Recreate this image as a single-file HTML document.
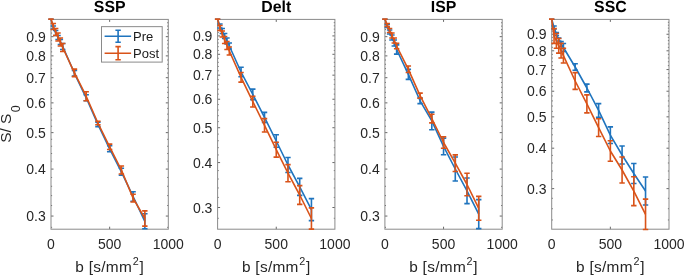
<!DOCTYPE html>
<html><head><meta charset="utf-8"><style>
text{filter:grayscale(1);}
html,body{margin:0;padding:0;background:#fff;}
svg{display:block;}
.t{font-family:"Liberation Sans",sans-serif;font-size:14px;fill:#262626;}
.lb{font-family:"Liberation Sans",sans-serif;font-size:15.4px;fill:#262626;}
.yl{font-family:"Liberation Sans",sans-serif;font-size:15.4px;fill:#262626;}
.lg{font-family:"Liberation Sans",sans-serif;font-size:13px;fill:#1a1a1a;}
.ti{font-family:"Liberation Sans",sans-serif;font-size:16.0px;font-weight:bold;fill:#000;text-rendering:geometricPrecision;}
</style></head><body>
<svg width="685" height="277" viewBox="0 0 685 277">
<rect width="685" height="277" fill="#fff"/>
<path d="M51.00 216.06h2.5M168.30 216.06h-2.5M51.00 169.08h2.5M168.30 169.08h-2.5M51.00 132.64h2.5M168.30 132.64h-2.5M51.00 102.87h2.5M168.30 102.87h-2.5M51.00 77.70h2.5M168.30 77.70h-2.5M51.00 55.89h2.5M168.30 55.89h-2.5M51.00 36.66h2.5M168.30 36.66h-2.5M51.00 227.33h1.1M168.30 227.33h-1.1M51.00 205.52h1.1M168.30 205.52h-1.1M51.00 195.62h1.1M168.30 195.62h-1.1M51.00 186.29h1.1M168.30 186.29h-1.1M51.00 177.46h1.1M168.30 177.46h-1.1M51.00 161.11h1.1M168.30 161.11h-1.1M51.00 153.52h1.1M168.30 153.52h-1.1M51.00 146.26h1.1M168.30 146.26h-1.1M51.00 139.31h1.1M168.30 139.31h-1.1M51.00 126.24h1.1M168.30 126.24h-1.1M51.00 120.07h1.1M168.30 120.07h-1.1M51.00 114.13h1.1M168.30 114.13h-1.1M51.00 108.40h1.1M168.30 108.40h-1.1M51.00 97.51h1.1M168.30 97.51h-1.1M51.00 92.33h1.1M168.30 92.33h-1.1M51.00 87.30h1.1M168.30 87.30h-1.1M51.00 82.43h1.1M168.30 82.43h-1.1M51.00 73.09h1.1M168.30 73.09h-1.1M51.00 68.62h1.1M168.30 68.62h-1.1M51.00 64.27h1.1M168.30 64.27h-1.1M51.00 60.02h1.1M168.30 60.02h-1.1M51.00 51.86h1.1M168.30 51.86h-1.1M51.00 47.92h1.1M168.30 47.92h-1.1M51.00 44.08h1.1M168.30 44.08h-1.1M51.00 40.33h1.1M168.30 40.33h-1.1M51.00 33.07h1.1M168.30 33.07h-1.1M51.00 29.55h1.1M168.30 29.55h-1.1M51.00 26.12h1.1M168.30 26.12h-1.1M51.00 22.75h1.1M168.30 22.75h-1.1M109.65 229.20v-2.5M109.65 19.40v2.5" stroke="#262626" stroke-width="0.7" fill="none"/>
<rect x="51.00" y="19.40" width="117.30" height="209.80" fill="none" stroke="#8a8a8a" stroke-width="1.0"/>
<polyline points="51.00,19.30 53.35,27.50 55.69,33.00 58.04,37.50 60.38,42.00 62.73,46.50 74.46,73.30 86.19,97.80 97.92,124.40 109.65,148.80 121.38,171.80 133.11,196.50 144.84,221.30" fill="none" stroke="#1F74BE" stroke-width="1.6" stroke-linejoin="round"/>
<path d="M51.00 19.30V19.30M48.30 19.30h5.40M48.30 19.30h5.40M53.35 26.00V29.00M50.65 26.00h5.40M50.65 29.00h5.40M55.69 30.50V35.50M52.99 30.50h5.40M52.99 35.50h5.40M58.04 35.50V39.50M55.34 35.50h5.40M55.34 39.50h5.40M60.38 39.50V44.50M57.68 39.50h5.40M57.68 44.50h5.40M62.73 43.50V49.50M60.03 43.50h5.40M60.03 49.50h5.40M74.46 70.50V76.10M71.76 70.50h5.40M71.76 76.10h5.40M86.19 94.80V100.80M83.49 94.80h5.40M83.49 100.80h5.40M97.92 122.20V126.60M95.22 122.20h5.40M95.22 126.60h5.40M109.65 145.80V151.80M106.95 145.80h5.40M106.95 151.80h5.40M121.38 168.30V175.30M118.68 168.30h5.40M118.68 175.30h5.40M133.11 191.80V201.20M130.41 191.80h5.40M130.41 201.20h5.40M144.84 213.80V228.80M142.14 213.80h5.40M142.14 228.80h5.40" fill="none" stroke="#1F74BE" stroke-width="1.6"/>
<polyline points="51.00,19.10 53.35,26.50 55.69,32.00 58.04,37.00 60.38,42.00 62.73,47.50 74.46,72.85 86.19,96.20 97.92,123.00 109.65,146.80 121.38,170.00 133.11,198.10 144.84,218.50" fill="none" stroke="#D95319" stroke-width="1.6" stroke-linejoin="round"/>
<path d="M51.00 19.10V19.10M48.30 19.10h5.40M48.30 19.10h5.40M53.35 23.50V29.50M50.65 23.50h5.40M50.65 29.50h5.40M55.69 28.50V35.50M52.99 28.50h5.40M52.99 35.50h5.40M58.04 33.00V41.00M55.34 33.00h5.40M55.34 41.00h5.40M60.38 38.00V46.00M57.68 38.00h5.40M57.68 46.00h5.40M62.73 43.50V51.50M60.03 43.50h5.40M60.03 51.50h5.40M74.46 69.10V76.60M71.76 69.10h5.40M71.76 76.60h5.40M86.19 91.70V100.70M83.49 91.70h5.40M83.49 100.70h5.40M97.92 121.20V124.80M95.22 121.20h5.40M95.22 124.80h5.40M109.65 144.10V149.50M106.95 144.10h5.40M106.95 149.50h5.40M121.38 166.00V174.00M118.68 166.00h5.40M118.68 174.00h5.40M133.11 194.20V202.00M130.41 194.20h5.40M130.41 202.00h5.40M144.84 210.85V226.15M142.14 210.85h5.40M142.14 226.15h5.40" fill="none" stroke="#D95319" stroke-width="1.6"/>
<text x="45.80" y="221.06" text-anchor="end" class="t">0.3</text>
<text x="45.80" y="174.08" text-anchor="end" class="t">0.4</text>
<text x="45.80" y="137.64" text-anchor="end" class="t">0.5</text>
<text x="45.80" y="107.87" text-anchor="end" class="t">0.6</text>
<text x="45.80" y="82.70" text-anchor="end" class="t">0.7</text>
<text x="45.80" y="60.89" text-anchor="end" class="t">0.8</text>
<text x="45.80" y="41.66" text-anchor="end" class="t">0.9</text>
<text x="51.00" y="248.6" text-anchor="middle" class="t">0</text>
<text x="109.65" y="248.6" text-anchor="middle" class="t">500</text>
<text x="168.30" y="248.6" text-anchor="middle" class="t">1000</text>
<text transform="translate(109.65 11.9) scale(0.99 1)" text-anchor="middle" class="ti">SSP</text>
<text x="109.65" y="272.4" text-anchor="middle" class="lb" letter-spacing="0.3">b [s/mm<tspan dx="0.6" dy="-7.7" font-size="10.8">2</tspan><tspan dx="0.4" dy="7.7">]</tspan></text>
<path d="M217.60 207.51h2.5M334.90 207.51h-2.5M217.60 162.57h2.5M334.90 162.57h-2.5M217.60 127.72h2.5M334.90 127.72h-2.5M217.60 99.24h2.5M334.90 99.24h-2.5M217.60 75.16h2.5M334.90 75.16h-2.5M217.60 54.31h2.5M334.90 54.31h-2.5M217.60 35.91h2.5M334.90 35.91h-2.5M217.60 218.29h1.1M334.90 218.29h-1.1M217.60 197.43h1.1M334.90 197.43h-1.1M217.60 187.96h1.1M334.90 187.96h-1.1M217.60 179.03h1.1M334.90 179.03h-1.1M217.60 170.59h1.1M334.90 170.59h-1.1M217.60 154.95h1.1M334.90 154.95h-1.1M217.60 147.69h1.1M334.90 147.69h-1.1M217.60 140.74h1.1M334.90 140.74h-1.1M217.60 134.10h1.1M334.90 134.10h-1.1M217.60 121.59h1.1M334.90 121.59h-1.1M217.60 115.70h1.1M334.90 115.70h-1.1M217.60 110.02h1.1M334.90 110.02h-1.1M217.60 104.54h1.1M334.90 104.54h-1.1M217.60 94.12h1.1M334.90 94.12h-1.1M217.60 89.16h1.1M334.90 89.16h-1.1M217.60 84.35h1.1M334.90 84.35h-1.1M217.60 79.69h1.1M334.90 79.69h-1.1M217.60 70.76h1.1M334.90 70.76h-1.1M217.60 66.48h1.1M334.90 66.48h-1.1M217.60 62.32h1.1M334.90 62.32h-1.1M217.60 58.26h1.1M334.90 58.26h-1.1M217.60 50.45h1.1M334.90 50.45h-1.1M217.60 46.68h1.1M334.90 46.68h-1.1M217.60 43.01h1.1M334.90 43.01h-1.1M217.60 39.42h1.1M334.90 39.42h-1.1M217.60 32.47h1.1M334.90 32.47h-1.1M217.60 29.11h1.1M334.90 29.11h-1.1M217.60 25.83h1.1M334.90 25.83h-1.1M217.60 22.61h1.1M334.90 22.61h-1.1M276.25 229.20v-2.5M276.25 19.40v2.5" stroke="#262626" stroke-width="0.7" fill="none"/>
<rect x="217.60" y="19.40" width="117.30" height="209.80" fill="none" stroke="#8a8a8a" stroke-width="1.0"/>
<polyline points="217.60,19.30 219.95,26.00 222.29,31.00 224.64,36.00 226.98,41.00 229.33,46.00 241.06,72.00 252.79,94.40 264.52,117.40 276.25,141.00 287.98,165.00 299.71,186.90 311.44,209.60" fill="none" stroke="#1F74BE" stroke-width="1.6" stroke-linejoin="round"/>
<path d="M217.60 19.30V19.30M214.90 19.30h5.40M214.90 19.30h5.40M219.95 24.00V28.00M217.25 24.00h5.40M217.25 28.00h5.40M222.29 28.50V33.50M219.59 28.50h5.40M219.59 33.50h5.40M224.64 33.50V38.50M221.94 33.50h5.40M221.94 38.50h5.40M226.98 38.00V44.00M224.28 38.00h5.40M224.28 44.00h5.40M229.33 43.00V49.00M226.63 43.00h5.40M226.63 49.00h5.40M241.06 67.20V76.80M238.36 67.20h5.40M238.36 76.80h5.40M252.79 89.10V99.70M250.09 89.10h5.40M250.09 99.70h5.40M264.52 112.40V122.40M261.82 112.40h5.40M261.82 122.40h5.40M276.25 134.70V147.30M273.55 134.70h5.40M273.55 147.30h5.40M287.98 157.50V172.50M285.28 157.50h5.40M285.28 172.50h5.40M299.71 178.40V195.40M297.01 178.40h5.40M297.01 195.40h5.40M311.44 198.60V220.60M308.74 198.60h5.40M308.74 220.60h5.40" fill="none" stroke="#1F74BE" stroke-width="1.6"/>
<polyline points="217.60,19.10 219.95,28.00 222.29,34.00 224.64,40.00 226.98,45.50 229.33,51.00 241.06,77.30 252.79,101.60 264.52,125.30 276.25,149.70 287.98,173.20 299.71,195.00 311.44,218.50" fill="none" stroke="#D95319" stroke-width="1.6" stroke-linejoin="round"/>
<path d="M217.60 19.10V19.10M214.90 19.10h5.40M214.90 19.10h5.40M219.95 25.50V30.50M217.25 25.50h5.40M217.25 30.50h5.40M222.29 31.00V37.00M219.59 31.00h5.40M219.59 37.00h5.40M224.64 36.50V43.50M221.94 36.50h5.40M221.94 43.50h5.40M226.98 41.50V49.50M224.28 41.50h5.40M224.28 49.50h5.40M229.33 47.00V55.00M226.63 47.00h5.40M226.63 55.00h5.40M241.06 72.45V82.15M238.36 72.45h5.40M238.36 82.15h5.40M252.79 96.20V107.00M250.09 96.20h5.40M250.09 107.00h5.40M264.52 118.60V132.00M261.82 118.60h5.40M261.82 132.00h5.40M276.25 142.30V157.10M273.55 142.30h5.40M273.55 157.10h5.40M287.98 164.60V181.80M285.28 164.60h5.40M285.28 181.80h5.40M299.71 185.60V204.40M297.01 185.60h5.40M297.01 204.40h5.40M311.44 207.90V229.10M308.74 207.90h5.40M308.74 229.10h5.40" fill="none" stroke="#D95319" stroke-width="1.6"/>
<text x="212.40" y="212.51" text-anchor="end" class="t">0.3</text>
<text x="212.40" y="167.57" text-anchor="end" class="t">0.4</text>
<text x="212.40" y="132.72" text-anchor="end" class="t">0.5</text>
<text x="212.40" y="104.24" text-anchor="end" class="t">0.6</text>
<text x="212.40" y="80.16" text-anchor="end" class="t">0.7</text>
<text x="212.40" y="59.31" text-anchor="end" class="t">0.8</text>
<text x="212.40" y="40.91" text-anchor="end" class="t">0.9</text>
<text x="217.60" y="248.6" text-anchor="middle" class="t">0</text>
<text x="276.25" y="248.6" text-anchor="middle" class="t">500</text>
<text x="334.90" y="248.6" text-anchor="middle" class="t">1000</text>
<text transform="translate(276.25 11.9) scale(0.99 1)" text-anchor="middle" class="ti">Delt</text>
<text x="276.25" y="272.4" text-anchor="middle" class="lb" letter-spacing="0.3">b [s/mm<tspan dx="0.6" dy="-7.7" font-size="10.8">2</tspan><tspan dx="0.4" dy="7.7">]</tspan></text>
<path d="M384.90 216.06h2.5M502.20 216.06h-2.5M384.90 169.08h2.5M502.20 169.08h-2.5M384.90 132.64h2.5M502.20 132.64h-2.5M384.90 102.87h2.5M502.20 102.87h-2.5M384.90 77.70h2.5M502.20 77.70h-2.5M384.90 55.89h2.5M502.20 55.89h-2.5M384.90 36.66h2.5M502.20 36.66h-2.5M384.90 227.33h1.1M502.20 227.33h-1.1M384.90 205.52h1.1M502.20 205.52h-1.1M384.90 195.62h1.1M502.20 195.62h-1.1M384.90 186.29h1.1M502.20 186.29h-1.1M384.90 177.46h1.1M502.20 177.46h-1.1M384.90 161.11h1.1M502.20 161.11h-1.1M384.90 153.52h1.1M502.20 153.52h-1.1M384.90 146.26h1.1M502.20 146.26h-1.1M384.90 139.31h1.1M502.20 139.31h-1.1M384.90 126.24h1.1M502.20 126.24h-1.1M384.90 120.07h1.1M502.20 120.07h-1.1M384.90 114.13h1.1M502.20 114.13h-1.1M384.90 108.40h1.1M502.20 108.40h-1.1M384.90 97.51h1.1M502.20 97.51h-1.1M384.90 92.33h1.1M502.20 92.33h-1.1M384.90 87.30h1.1M502.20 87.30h-1.1M384.90 82.43h1.1M502.20 82.43h-1.1M384.90 73.09h1.1M502.20 73.09h-1.1M384.90 68.62h1.1M502.20 68.62h-1.1M384.90 64.27h1.1M502.20 64.27h-1.1M384.90 60.02h1.1M502.20 60.02h-1.1M384.90 51.86h1.1M502.20 51.86h-1.1M384.90 47.92h1.1M502.20 47.92h-1.1M384.90 44.08h1.1M502.20 44.08h-1.1M384.90 40.33h1.1M502.20 40.33h-1.1M384.90 33.07h1.1M502.20 33.07h-1.1M384.90 29.55h1.1M502.20 29.55h-1.1M384.90 26.12h1.1M502.20 26.12h-1.1M384.90 22.75h1.1M502.20 22.75h-1.1M443.55 229.20v-2.5M443.55 19.40v2.5" stroke="#262626" stroke-width="0.7" fill="none"/>
<rect x="384.90" y="19.40" width="117.30" height="209.80" fill="none" stroke="#8a8a8a" stroke-width="1.0"/>
<polyline points="384.90,19.30 387.25,26.00 389.59,32.00 391.94,37.50 394.28,43.00 396.63,49.50 408.36,74.40 420.09,100.80 431.82,120.90 443.55,146.40 455.28,169.00 467.01,190.80 478.74,214.10" fill="none" stroke="#1F74BE" stroke-width="1.6" stroke-linejoin="round"/>
<path d="M384.90 19.30V19.30M382.20 19.30h5.40M382.20 19.30h5.40M387.25 24.50V27.50M384.55 24.50h5.40M384.55 27.50h5.40M389.59 30.00V34.00M386.89 30.00h5.40M386.89 34.00h5.40M391.94 35.00V40.00M389.24 35.00h5.40M389.24 40.00h5.40M394.28 40.00V46.00M391.58 40.00h5.40M391.58 46.00h5.40M396.63 44.90V54.10M393.93 44.90h5.40M393.93 54.10h5.40M408.36 69.40V79.40M405.66 69.40h5.40M405.66 79.40h5.40M420.09 98.00V103.60M417.39 98.00h5.40M417.39 103.60h5.40M431.82 112.10V129.70M429.12 112.10h5.40M429.12 129.70h5.40M443.55 138.10V154.70M440.85 138.10h5.40M440.85 154.70h5.40M455.28 157.00V181.00M452.58 157.00h5.40M452.58 181.00h5.40M467.01 178.00V203.60M464.31 178.00h5.40M464.31 203.60h5.40M478.74 199.60V228.60M476.04 199.60h5.40M476.04 228.60h5.40" fill="none" stroke="#1F74BE" stroke-width="1.6"/>
<polyline points="384.90,19.10 387.25,25.00 389.59,30.50 391.94,35.50 394.28,40.50 396.63,46.00 408.36,69.30 420.09,95.60 431.82,118.60 443.55,142.50 455.28,163.20 467.01,184.50 478.74,208.30" fill="none" stroke="#D95319" stroke-width="1.6" stroke-linejoin="round"/>
<path d="M384.90 19.10V19.10M382.20 19.10h5.40M382.20 19.10h5.40M387.25 23.50V26.50M384.55 23.50h5.40M384.55 26.50h5.40M389.59 28.50V32.50M386.89 28.50h5.40M386.89 32.50h5.40M391.94 33.00V38.00M389.24 33.00h5.40M389.24 38.00h5.40M394.28 38.00V43.00M391.58 38.00h5.40M391.58 43.00h5.40M396.63 43.25V48.75M393.93 43.25h5.40M393.93 48.75h5.40M408.36 66.05V72.55M405.66 66.05h5.40M405.66 72.55h5.40M420.09 93.10V98.10M417.39 93.10h5.40M417.39 98.10h5.40M431.82 114.30V122.90M429.12 114.30h5.40M429.12 122.90h5.40M443.55 136.70V148.30M440.85 136.70h5.40M440.85 148.30h5.40M455.28 154.85V171.55M452.58 154.85h5.40M452.58 171.55h5.40M467.01 173.20V195.80M464.31 173.20h5.40M464.31 195.80h5.40M478.74 196.40V220.20M476.04 196.40h5.40M476.04 220.20h5.40" fill="none" stroke="#D95319" stroke-width="1.6"/>
<text x="379.70" y="221.06" text-anchor="end" class="t">0.3</text>
<text x="379.70" y="174.08" text-anchor="end" class="t">0.4</text>
<text x="379.70" y="137.64" text-anchor="end" class="t">0.5</text>
<text x="379.70" y="107.87" text-anchor="end" class="t">0.6</text>
<text x="379.70" y="82.70" text-anchor="end" class="t">0.7</text>
<text x="379.70" y="60.89" text-anchor="end" class="t">0.8</text>
<text x="379.70" y="41.66" text-anchor="end" class="t">0.9</text>
<text x="384.90" y="248.6" text-anchor="middle" class="t">0</text>
<text x="443.55" y="248.6" text-anchor="middle" class="t">500</text>
<text x="502.20" y="248.6" text-anchor="middle" class="t">1000</text>
<text transform="translate(443.55 11.9) scale(0.99 1)" text-anchor="middle" class="ti">ISP</text>
<text x="443.55" y="272.4" text-anchor="middle" class="lb" letter-spacing="0.3">b [s/mm<tspan dx="0.6" dy="-7.7" font-size="10.8">2</tspan><tspan dx="0.4" dy="7.7">]</tspan></text>
<path d="M551.70 188.61h2.5M669.00 188.61h-2.5M551.70 148.19h2.5M669.00 148.19h-2.5M551.70 116.84h2.5M669.00 116.84h-2.5M551.70 91.22h2.5M669.00 91.22h-2.5M551.70 69.56h2.5M669.00 69.56h-2.5M551.70 50.80h2.5M669.00 50.80h-2.5M551.70 34.25h2.5M669.00 34.25h-2.5M551.70 219.96h1.1M669.00 219.96h-1.1M551.70 208.71h1.1M669.00 208.71h-1.1M551.70 198.30h1.1M669.00 198.30h-1.1M551.70 179.54h1.1M669.00 179.54h-1.1M551.70 171.02h1.1M669.00 171.02h-1.1M551.70 162.99h1.1M669.00 162.99h-1.1M551.70 155.40h1.1M669.00 155.40h-1.1M551.70 141.33h1.1M669.00 141.33h-1.1M551.70 134.80h1.1M669.00 134.80h-1.1M551.70 128.55h1.1M669.00 128.55h-1.1M551.70 122.57h1.1M669.00 122.57h-1.1M551.70 111.33h1.1M669.00 111.33h-1.1M551.70 106.02h1.1M669.00 106.02h-1.1M551.70 100.91h1.1M669.00 100.91h-1.1M551.70 95.98h1.1M669.00 95.98h-1.1M551.70 86.61h1.1M669.00 86.61h-1.1M551.70 82.15h1.1M669.00 82.15h-1.1M551.70 77.83h1.1M669.00 77.83h-1.1M551.70 73.64h1.1M669.00 73.64h-1.1M551.70 65.60h1.1M669.00 65.60h-1.1M551.70 61.76h1.1M669.00 61.76h-1.1M551.70 58.01h1.1M669.00 58.01h-1.1M551.70 54.36h1.1M669.00 54.36h-1.1M551.70 47.33h1.1M669.00 47.33h-1.1M551.70 43.95h1.1M669.00 43.95h-1.1M551.70 40.64h1.1M669.00 40.64h-1.1M551.70 37.41h1.1M669.00 37.41h-1.1M551.70 31.17h1.1M669.00 31.17h-1.1M551.70 28.14h1.1M669.00 28.14h-1.1M551.70 25.19h1.1M669.00 25.19h-1.1M551.70 22.29h1.1M669.00 22.29h-1.1M610.35 229.20v-2.5M610.35 19.40v2.5" stroke="#262626" stroke-width="0.7" fill="none"/>
<rect x="551.70" y="19.40" width="117.30" height="209.80" fill="none" stroke="#8a8a8a" stroke-width="1.0"/>
<polyline points="551.70,19.30 554.05,27.50 556.39,34.00 558.74,39.50 561.08,44.00 563.43,47.50 575.16,67.00 586.89,88.00 598.62,110.40 610.35,135.20 622.08,155.00 633.81,173.50 645.54,191.00" fill="none" stroke="#1F74BE" stroke-width="1.6" stroke-linejoin="round"/>
<path d="M551.70 19.30V19.30M549.00 19.30h5.40M549.00 19.30h5.40M554.05 26.00V29.00M551.35 26.00h5.40M551.35 29.00h5.40M556.39 32.50V35.50M553.69 32.50h5.40M553.69 35.50h5.40M558.74 38.00V41.00M556.04 38.00h5.40M556.04 41.00h5.40M561.08 41.50V46.50M558.38 41.50h5.40M558.38 46.50h5.40M563.43 43.50V51.50M560.73 43.50h5.40M560.73 51.50h5.40M575.16 63.75V70.25M572.46 63.75h5.40M572.46 70.25h5.40M586.89 84.10V91.90M584.19 84.10h5.40M584.19 91.90h5.40M598.62 103.60V117.20M595.92 103.60h5.40M595.92 117.20h5.40M610.35 126.90V143.50M607.65 126.90h5.40M607.65 143.50h5.40M622.08 146.00V164.00M619.38 146.00h5.40M619.38 164.00h5.40M633.81 163.50V183.50M631.11 163.50h5.40M631.11 183.50h5.40M645.54 177.00V205.00M642.84 177.00h5.40M642.84 205.00h5.40" fill="none" stroke="#1F74BE" stroke-width="1.6"/>
<polyline points="551.70,19.10 554.05,36.00 556.39,40.90 558.74,45.80 561.08,50.70 563.43,55.60 575.16,81.00 586.89,103.90 598.62,127.60 610.35,151.00 622.08,170.00 633.81,191.20 645.54,214.30" fill="none" stroke="#D95319" stroke-width="1.6" stroke-linejoin="round"/>
<path d="M551.70 19.10V19.10M549.00 19.10h5.40M549.00 19.10h5.40M554.05 28.65V43.35M551.35 28.65h5.40M551.35 43.35h5.40M556.39 33.55V48.25M553.69 33.55h5.40M553.69 48.25h5.40M558.74 38.45V53.15M556.04 38.45h5.40M556.04 53.15h5.40M561.08 43.35V58.05M558.38 43.35h5.40M558.38 58.05h5.40M563.43 48.25V62.95M560.73 48.25h5.40M560.73 62.95h5.40M575.16 72.60V89.40M572.46 72.60h5.40M572.46 89.40h5.40M586.89 94.90V112.90M584.19 94.90h5.40M584.19 112.90h5.40M598.62 118.70V136.50M595.92 118.70h5.40M595.92 136.50h5.40M610.35 140.70V161.30M607.65 140.70h5.40M607.65 161.30h5.40M622.08 157.00V183.00M619.38 157.00h5.40M619.38 183.00h5.40M633.81 176.80V205.60M631.11 176.80h5.40M631.11 205.60h5.40M645.54 199.10V229.50M642.84 199.10h5.40M642.84 229.50h5.40" fill="none" stroke="#D95319" stroke-width="1.6"/>
<text x="546.50" y="193.61" text-anchor="end" class="t">0.3</text>
<text x="546.50" y="153.19" text-anchor="end" class="t">0.4</text>
<text x="546.50" y="121.84" text-anchor="end" class="t">0.5</text>
<text x="546.50" y="96.22" text-anchor="end" class="t">0.6</text>
<text x="546.50" y="74.56" text-anchor="end" class="t">0.7</text>
<text x="546.50" y="55.80" text-anchor="end" class="t">0.8</text>
<text x="546.50" y="39.25" text-anchor="end" class="t">0.9</text>
<text x="551.70" y="248.6" text-anchor="middle" class="t">0</text>
<text x="610.35" y="248.6" text-anchor="middle" class="t">500</text>
<text x="669.00" y="248.6" text-anchor="middle" class="t">1000</text>
<text transform="translate(610.35 11.9) scale(0.99 1)" text-anchor="middle" class="ti">SSC</text>
<text x="610.35" y="272.4" text-anchor="middle" class="lb" letter-spacing="0.3">b [s/mm<tspan dx="0.6" dy="-7.7" font-size="10.8">2</tspan><tspan dx="0.4" dy="7.7">]</tspan></text>
<rect x="101.5" y="26.65" width="60.7" height="35.45" fill="#fff" stroke="#8a8a8a" stroke-width="1.0"/>
<path d="M104.6 36.2H131.1M118.1 30.20V42.20M115.40 30.20h5.40M115.40 42.20h5.40" stroke="#1F74BE" stroke-width="1.6" fill="none"/>
<text x="133.0" y="41.10" class="lg">Pre</text>
<path d="M104.6 53.2H131.1M118.1 46.60V59.80M115.40 46.60h5.40M115.40 59.80h5.40" stroke="#D95319" stroke-width="1.6" fill="none"/>
<text x="133.0" y="58.10" class="lg">Post</text>
<text transform="translate(11.3 142.8) rotate(-90)" class="yl">S/ S<tspan dx="1.4" dy="8.3" font-size="12.5">0</tspan></text>
</svg>
</body></html>
